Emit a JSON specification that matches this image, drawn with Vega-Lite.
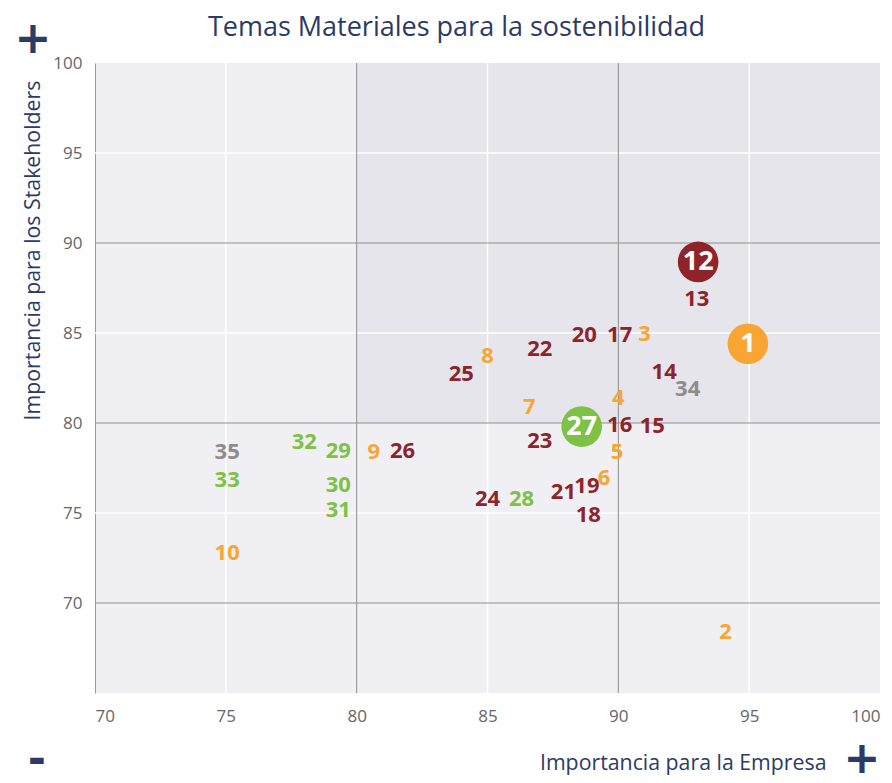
{
  "$schema": "https://vega.github.io/schema/vega-lite/v6.json",
  "width": 785,
  "height": 630,
  "autosize": {"type": "none"},
  "padding": {"left": 95, "top": 63, "right": 12, "bottom": 90},
  "background": "white",
  "title": {
    "text": "Temas Materiales para la sostenibilidad",
    "anchor": "middle",
    "frame": "group",
    "dx": -31,
    "offset": -24,
    "font": "Open Sans",
    "fontSize": 27,
    "fontWeight": "normal",
    "color": "#2b3a67"
  },
  "config": {
    "view": {"fill": "#f0eff4", "stroke": null},
    "axis": {
      "grid": false,
      "ticks": false,
      "labelFont": "Open Sans",
      "labelFontSize": 17,
      "labelColor": "#666666",
      "titleFont": "Open Sans",
      "titleFontSize": 21.3,
      "titleFontWeight": "normal",
      "titleColor": "#2b3a67"
    }
  },
  "datasets": {
    "temas": [
      {"id": "1", "x": 94.95, "y": 84.4, "grupo": "naranja", "big": true},
      {"id": "2", "x": 94.1, "y": 68.4, "grupo": "naranja", "big": false},
      {"id": "3", "x": 91.0, "y": 84.95, "grupo": "naranja", "big": false},
      {"id": "4", "x": 90.0, "y": 81.4, "grupo": "naranja", "big": false},
      {"id": "5", "x": 89.95, "y": 78.4, "grupo": "naranja", "big": false},
      {"id": "6", "x": 89.45, "y": 76.95, "grupo": "naranja", "big": false},
      {"id": "7", "x": 86.6, "y": 80.9, "grupo": "naranja", "big": false},
      {"id": "8", "x": 85.0, "y": 83.7, "grupo": "naranja", "big": false},
      {"id": "9", "x": 80.65, "y": 78.4, "grupo": "naranja", "big": false},
      {"id": "10", "x": 75.05, "y": 72.8, "grupo": "naranja", "big": false},
      {"id": "12", "x": 93.05, "y": 88.95, "grupo": "rojo", "big": true},
      {"id": "13", "x": 93.0, "y": 86.9, "grupo": "rojo", "big": false},
      {"id": "14", "x": 91.75, "y": 82.85, "grupo": "rojo", "big": false},
      {"id": "15", "x": 91.3, "y": 79.85, "grupo": "rojo", "big": false},
      {"id": "16", "x": 90.05, "y": 79.9, "grupo": "rojo", "big": false},
      {"id": "17", "x": 90.05, "y": 84.9, "grupo": "rojo", "big": false},
      {"id": "18", "x": 88.85, "y": 74.9, "grupo": "rojo", "big": false},
      {"id": "19", "x": 88.8, "y": 76.5, "grupo": "rojo", "big": false},
      {"id": "20", "x": 88.7, "y": 84.9, "grupo": "rojo", "big": false},
      {"id": "21", "x": 87.9, "y": 76.15, "grupo": "rojo", "big": false},
      {"id": "22", "x": 87.0, "y": 84.1, "grupo": "rojo", "big": false},
      {"id": "23", "x": 87.0, "y": 79.0, "grupo": "rojo", "big": false},
      {"id": "24", "x": 85.0, "y": 75.8, "grupo": "rojo", "big": false},
      {"id": "25", "x": 84.0, "y": 82.75, "grupo": "rojo", "big": false},
      {"id": "26", "x": 81.75, "y": 78.45, "grupo": "rojo", "big": false},
      {"id": "27", "x": 88.6, "y": 79.8, "grupo": "verde", "big": true},
      {"id": "28", "x": 86.3, "y": 75.8, "grupo": "verde", "big": false},
      {"id": "29", "x": 79.3, "y": 78.45, "grupo": "verde", "big": false},
      {"id": "30", "x": 79.3, "y": 76.55, "grupo": "verde", "big": false},
      {"id": "31", "x": 79.3, "y": 75.15, "grupo": "verde", "big": false},
      {"id": "32", "x": 78.0, "y": 78.95, "grupo": "verde", "big": false},
      {"id": "33", "x": 75.05, "y": 76.85, "grupo": "verde", "big": false},
      {"id": "34", "x": 92.65, "y": 81.9, "grupo": "gris", "big": false},
      {"id": "35", "x": 75.05, "y": 78.4, "grupo": "gris", "big": false}
    ],
    "cuadrante": [{"x1": 80, "x2": 100, "y1": 80, "y2": 100}],
    "gridx": [{"v": 75}, {"v": 85}, {"v": 95}],
    "gridy": [{"v": 75}, {"v": 85}, {"v": 95}],
    "lineasx": [{"v": 80}, {"v": 90}],
    "lineasy": [{"v": 70}, {"v": 80}, {"v": 90}],
    "signos": [
      {"s": "+", "x": 67.63, "y": 101.3},
      {"s": "+", "x": 99.31, "y": 61.3},
      {"s": "-", "x": 67.78, "y": 61.25}
    ]
  },
  "layer": [
    {
      "data": {"name": "cuadrante"},
      "mark": {"type": "rect", "fill": "#e5e5eb"},
      "encoding": {
        "x": {"field": "x1", "type": "quantitative", "scale": {"domain": [70, 100], "nice": false, "zero": false},
          "axis": {"values": [70, 75, 80, 85, 90, 95, 100], "domain": false, "labelPadding": 15,
            "title": "Importancia para la Empresa", "titleX": 731, "titleY": 70, "titleAlign": "right", "titleBaseline": "middle"}},
        "x2": {"field": "x2"},
        "y": {"field": "y1", "type": "quantitative", "scale": {"domain": [65, 100], "nice": false, "zero": false},
          "axis": {"values": [70, 75, 80, 85, 90, 95, 100], "domain": true, "domainColor": "#9a9a9a", "labelPadding": 13,
            "title": "Importancia para los Stakeholders", "titleX": -62, "titleY": 187, "titleAlign": "center", "titleBaseline": "middle"}},
        "y2": {"field": "y2"}
      }
    },
    {
      "data": {"name": "gridx"},
      "mark": {"type": "rule", "color": "white", "strokeWidth": 1.5},
      "encoding": {"x": {"field": "v", "type": "quantitative"}}
    },
    {
      "data": {"name": "gridy"},
      "mark": {"type": "rule", "color": "white", "strokeWidth": 1.5},
      "encoding": {"y": {"field": "v", "type": "quantitative"}}
    },
    {
      "data": {"name": "lineasx"},
      "mark": {"type": "rule", "color": "#8f8f8f", "strokeWidth": 1},
      "encoding": {"x": {"field": "v", "type": "quantitative"}}
    },
    {
      "data": {"name": "lineasy"},
      "mark": {"type": "rule", "color": "#8f8f8f", "strokeWidth": 1},
      "encoding": {"y": {"field": "v", "type": "quantitative"}}
    },
    {
      "data": {"name": "temas"},
      "transform": [{"filter": "datum.big"}],
      "mark": {"type": "circle", "size": 1650, "opacity": 1},
      "encoding": {
        "x": {"field": "x", "type": "quantitative"},
        "y": {"field": "y", "type": "quantitative"},
        "color": {"field": "grupo", "type": "nominal", "legend": null,
          "scale": {"domain": ["naranja", "rojo", "verde", "gris"], "range": ["#f9a533", "#8e2429", "#7dc244", "#8c8c8c"]}}
      }
    },
    {
      "data": {"name": "temas"},
      "mark": {"type": "text", "font": "Open Sans", "fontWeight": "bold", "align": "center", "baseline": "middle"},
      "encoding": {
        "x": {"field": "x", "type": "quantitative"},
        "y": {"field": "y", "type": "quantitative"},
        "text": {"field": "id"},
        "size": {"condition": {"test": "datum.big", "value": 27}, "value": 22},
        "color": {"condition": {"test": "datum.big", "value": "white"}, "field": "grupo", "type": "nominal", "legend": null}
      }
    },
    {
      "data": {"name": "signos"},
      "mark": {"type": "text", "font": "DejaVu Sans", "fontWeight": "bold", "fontSize": 44, "align": "center", "baseline": "middle", "color": "#2b3a67"},
      "encoding": {
        "x": {"field": "x", "type": "quantitative"},
        "y": {"field": "y", "type": "quantitative"},
        "text": {"field": "s"}
      }
    }
  ]
}
